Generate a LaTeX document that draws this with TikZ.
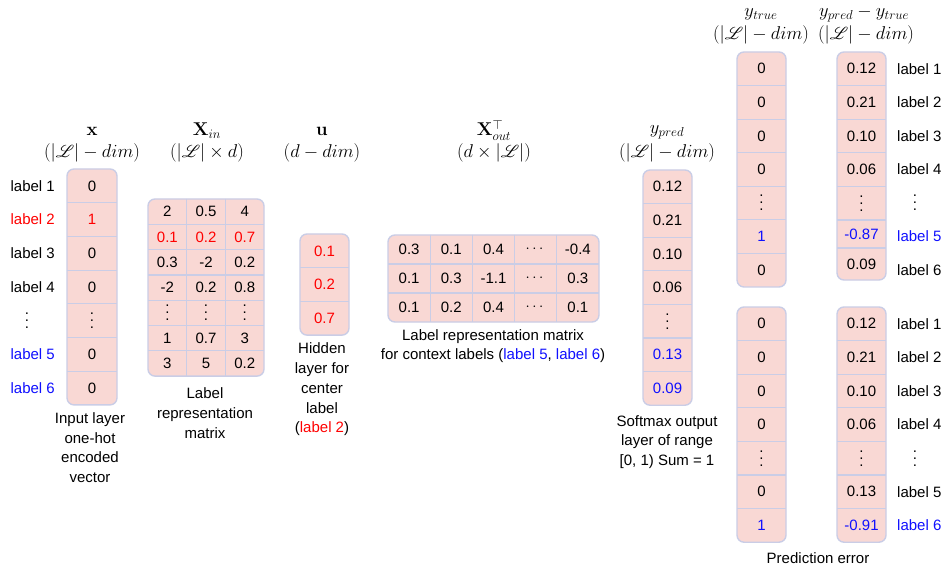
\RequirePackage{fix-cm}
\documentclass[tikz,border=0pt]{standalone}
\usepackage{amsmath}
\usepackage{mathrsfs}
\usepackage[no-math]{fontspec}
\setmainfont{Liberation Sans}
\usetikzlibrary{positioning}

\definecolor{cellfill}{HTML}{F9D8D4}
\definecolor{cellline}{HTML}{CACDE6}
\definecolor{hotred}{HTML}{FF0000}
\definecolor{ctxblue}{HTML}{1010FF}

\newcommand\cellsize{\fontsize{15}{18}\selectfont}
\newcommand\titlesize{\fontsize{18.5}{22}\selectfont}
\newcommand\capsize{\fontsize{15}{19.7}\selectfont}
% three stacked dots, spaced for the 15pt cell text
\newcommand\vdts{\vbox{\baselineskip7pt\lineskiplimit0pt\hbox{.}\hbox{.}\hbox{.}}}

\tikzset{
  panel/.style={fill=cellfill, draw=cellline, line width=1.4pt, rounded corners=7pt},
  sep/.style={draw=cellline, line width=1.2pt},
  cell/.style={inner sep=0pt, outer sep=0pt, font=\cellsize},
  lbl/.style={inner sep=0pt, font=\cellsize},
  title/.style={inner sep=0pt, anchor=base, font=\titlesize},
  caption/.style={inner sep=0pt, align=center, font=\capsize},
}

% cells only: #1 name, #2 left x, #3 top y, #4 cell width, #5 cell height, #6 rows of entries
\newcommand\cells[6]{%
  \foreach \rowlist [count=\r] in {#6} {
    \foreach \e [count=\c] in \rowlist {
      \node[cell, minimum width=#4, minimum height=#5] (#1-\r-\c)
        at ({#2+(\c-0.5)*#4},{#3+(\r-0.5)*#5}) {\e};
      \ifnum\r>1 \draw[sep] (#1-\r-\c.north west) -- (#1-\r-\c.north east);\fi
      \ifnum\c>1 \draw[sep] (#1-\r-\c.north west) -- (#1-\r-\c.south west);\fi
    }
  }
}
% panel plus cells: #1 name, #2 left x, #3 top y, #4 cell width, #5 cell height,
% #6 number of columns, #7 number of rows, #8 rows of entries
\newcommand\grid[8]{%
  \draw[panel] (#2,#3) rectangle ++({#4*#6},{#5*#7});
  \cells{#1}{#2}{#3}{#4}{#5}{#8}
}

\begin{document}
\begin{tikzpicture}[x=1pt,y=-1pt]
\useasboundingbox[fill=white] (0,0) rectangle (947,569);

% ---------- input one-hot vector x ----------
\node[title] (xt1) at (92,136) {$\mathbf{x}$};
\node[title] (xt2) at (92,158) {$(|\mathscr{L}| - dim)$};
\grid{x}{67}{169}{50}{33.7}{1}{7}{0,{\color{hotred}1},0,0,\vdts,0,0}
\foreach \t [count=\i] in {label 1,{\color{hotred}label 2},label 3,label 4}
  \node[lbl, anchor=east] (xl-\i) at (55,0 |- x-\i-1) {\t};
\node[lbl] (xl-5) at (27,0 |- x-5-1) {\vdts};
\node[lbl, anchor=east, text=ctxblue] (xl-6) at (55,0 |- x-6-1) {label 5};
\node[lbl, anchor=east, text=ctxblue] (xl-7) at (55,0 |- x-7-1) {label 6};
\node[caption] (xcap) at (90,447.5) {Input layer\\one-hot\\encoded\\vector};

% ---------- input representation matrix ----------
\node[title] (xint1) at (207,136) {$\mathbf{X}_{in}$};
\node[title] (xint2) at (207,158) {$(|\mathscr{L}| \times d)$};
\grid{xin}{148}{199}{38.67}{25.3}{3}{7}{%
  {2,0.5,4},
  {{\color{hotred}0.1},{\color{hotred}0.2},{\color{hotred}0.7}},
  {0.3,-2,0.2},
  {-2,0.2,0.8},
  {\vdts,\vdts,\vdts},
  {1,0.7,3},
  {3,5,0.2}}
\node[caption] (xincap) at (205,413) {Label\\representation\\matrix};

% ---------- hidden layer u ----------
\node[title] (ut1) at (322,136) {$\mathbf{u}$};
\node[title] (ut2) at (322,158) {$(d - dim)$};
\grid{u}{300}{234}{49}{33.7}{1}{3}{%
  {\color{hotred}0.1},{\color{hotred}0.2},{\color{hotred}0.7}}
\node[caption] (ucap) at (322,389.5)
  {Hidden\\layer for\\center\\label\\({\color{hotred}label 2})};

% ---------- output representation matrix ----------
\node[title] (xot1) at (494,136) {$\mathbf{X}_{out}^{\top}$};
\node[title] (xot2) at (494,158) {$(d \times |\mathscr{L}|)$};
\grid{xout}{388}{235}{42.2}{29}{5}{3}{%
  {0.3,0.1,0.4,$\cdots$,-0.4},
  {0.1,0.3,-1.1,$\cdots$,0.3},
  {0.1,0.2,0.4,$\cdots$,0.1}}
\node[caption] (xoutcap) at (493,346)
  {Label representation matrix\\for context labels ({\color{ctxblue}label 5}, {\color{ctxblue}label 6})};

% ---------- softmax output ----------
\node[title] (ypt1) at (667,134) {$y_{pred}$};
\node[title] (ypt2) at (667,158) {$(|\mathscr{L}| - dim)$};
\grid{yp}{643}{170}{49}{33.6}{1}{7}{%
  0.12,0.21,0.10,0.06,\vdts,{\color{ctxblue}0.13},{\color{ctxblue}0.09}}
\node[caption] (ypcap) at (667,442) {Softmax output\\layer of range\\{[0, 1)} Sum = 1};

% ---------- targets and errors ----------
\node[title] (ytt1) at (761,17) {$y_{true}$};
\node[title] (ytt2) at (761,40) {$(|\mathscr{L}| - dim)$};
\node[title] (ert1) at (864,17) {$y_{pred} - y_{true}$};
\node[title] (ert2) at (866,40) {$(|\mathscr{L}| - dim)$};

\grid{yta}{737}{52}{49}{33.57}{1}{7}{0,0,0,0,\vdts,{\color{ctxblue}1},0}

% error column for the first context label: its last two rows are shorter
\draw[panel] (837,52) rectangle (886,280);
\cells{era}{837}{52}{49}{33.6}{0.12,0.21,0.10,0.06,\vdts}
\node[cell, minimum width=49, minimum height=28, text=ctxblue] (era-6-1) at (861.5,234) {-0.87};
\node[cell, minimum width=49, minimum height=32] (era-7-1) at (861.5,264) {0.09};
\draw[sep] (era-6-1.north west) -- (era-6-1.north east);
\draw[sep] (era-7-1.north west) -- (era-7-1.north east);

\foreach \t [count=\i] in {label 1,label 2,label 3,label 4}
  \node[lbl, anchor=west] (ral-\i) at (897,0 |- yta-\i-1) {\t};
\node[lbl] (ral-5) at (915,0 |- yta-5-1) {\vdts};
\node[lbl, anchor=west, text=ctxblue] (ral-6) at (897,0 |- yta-6-1) {label 5};
\node[lbl, anchor=west] (ral-7) at (897,0 |- yta-7-1) {label 6};

\grid{ytb}{737}{307}{49}{33.6}{1}{7}{0,0,0,0,\vdts,0,{\color{ctxblue}1}}
\grid{erb}{837}{307}{49}{33.6}{1}{7}{%
  0.12,0.21,0.10,0.06,\vdts,0.13,{\color{ctxblue}-0.91}}
\foreach \t [count=\i] in {label 1,label 2,label 3,label 4}
  \node[lbl, anchor=west] (rbl-\i) at (897,0 |- ytb-\i-1) {\t};
\node[lbl] (rbl-5) at (915,0 |- ytb-5-1) {\vdts};
\node[lbl, anchor=west] (rbl-6) at (897,0 |- ytb-6-1) {label 5};
\node[lbl, anchor=west, text=ctxblue] (rbl-7) at (897,0 |- ytb-7-1) {label 6};

\node[caption] (errcap) at (818,558) {Prediction error};
\end{tikzpicture}
\end{document}
